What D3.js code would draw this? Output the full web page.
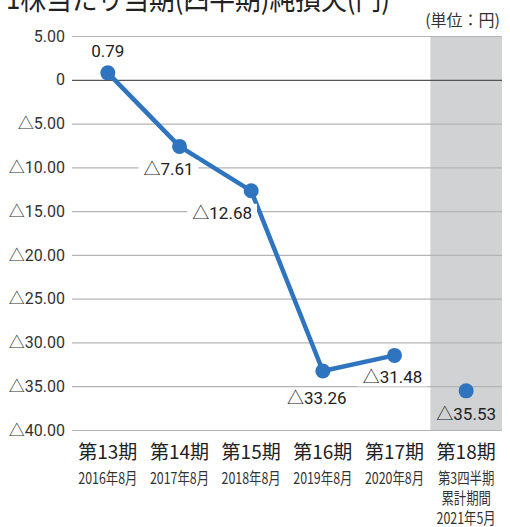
<!DOCTYPE html>
<html><head><meta charset="utf-8">
<script src="https://cdn.jsdelivr.net/npm/d3@7"></script>
<style>
html,body{margin:0;padding:0;background:#fff;}
svg{display:block;font-family:"Noto Sans CJK JP","Noto Sans",sans-serif;}
</style></head>
<body><svg id="chart" width="510" height="527"></svg>
<script>
const categories = ["第13期","第14期","第15期","第16期","第17期","第18期"];
const subLabels = [["2016年8月"],["2017年8月"],["2018年8月"],["2019年8月"],["2020年8月"],["第3四半期","累計期間","2021年5月"]];
const values = [0.79, -7.61, -12.68, -33.26, -31.48, -35.53];
const lineIndices = [0,1,2,3,4];      // connected points (full years)
const highlightIndex = 5;             // shaded (quarterly) period
const yTicks = [5,0,-5,-10,-15,-20,-25,-30,-35,-40];
const titleText = "1株当たり当期(四半期)純損失(円)";
const unitText = "(単位：円)";

(function(){
const pL = 72, pR = 502, pT = 36, pB = 430;
const svg = d3.select("#chart");
const x = d3.scaleBand().domain(categories).range([pL, pR]).padding(0);
const y = d3.scaleLinear().domain([-40, 5]).range([pB, pT]);
const cx = i => x(categories[i]) + x.bandwidth()/2;
const fmt = v => v === 0 ? "0" : (v < 0 ? "△" + Math.abs(v).toFixed(2) : v.toFixed(2));

// shaded band
svg.append("rect")
  .attr("x", x(categories[highlightIndex])).attr("y", y(5))
  .attr("width", x.bandwidth()).attr("height", y(-40) - y(5))
  .attr("fill", "#d1d2d4");

// grid
const yAxis = d3.axisLeft(y).tickValues(yTicks).tickFormat(fmt).tickSize(-(pR-pL)).tickPadding(7);
const gy = svg.append("g").attr("transform", `translate(${pL},0)`).call(yAxis);
gy.select(".domain").remove();
gy.selectAll(".tick line").attr("stroke", d => d === 0 ? "#555" : "#b4b4b4").attr("stroke-width", d => d===0?1.3:1.2);
gy.selectAll(".tick text").attr("fill", "#333").attr("font-size", 16).attr("font-family","Roboto,'Noto Sans CJK JP',sans-serif");

// title & unit
svg.append("text").attr("x", 6).attr("y", 9).attr("font-size", 30).attr("fill","#222")
  .attr("textLength", 384).attr("lengthAdjust","spacingAndGlyphs").text(titleText);
svg.append("text").attr("x", 500).attr("y", 26).attr("text-anchor","end").attr("font-size", 16).attr("fill","#333").text(unitText);

// line
const line = d3.line().x(i => cx(i)).y(i => y(values[i]));
svg.append("path").datum(lineIndices).attr("d", line)
  .attr("fill","none").attr("stroke","#2e74bf").attr("stroke-width",4.5).attr("stroke-linejoin","round");

// points
svg.selectAll("circle.pt").data(values).enter().append("circle")
  .attr("class","pt").attr("cx",(d,i)=>cx(i)).attr("cy",d=>y(d)).attr("r",7.5).attr("fill","#2e74bf");

// value labels
const labelOffsets = [[0,-16],[-11,29],[-29,28],[-6,33],[-2,28],[0,29]];
values.forEach((v,i) => {
  const g = svg.append("g");
  const t = g.append("text").attr("x", cx(i)+labelOffsets[i][0]).attr("y", y(v)+labelOffsets[i][1])
    .attr("text-anchor","middle").attr("font-size",17).attr("fill","#222")
    .attr("font-family","Roboto,'Noto Sans CJK JP',sans-serif").text(fmt(v));
  if (v < 0) {
    const b = t.node().getBBox();
    g.insert("rect","text").attr("x", b.x-5).attr("y", b.y+1).attr("width", b.width+10).attr("height", b.height-2)
      .attr("fill", i === highlightIndex ? "#d1d2d4" : "#fff");
  }
});

// x labels
categories.forEach((c,i) => {
  svg.append("text").attr("x", cx(i)).attr("y", 459).attr("text-anchor","middle")
    .attr("font-size",19).attr("font-weight",400).attr("fill","#222").text(c);
  subLabels[i].forEach((s,j) => {
    svg.append("text").attr("x", cx(i)).attr("y", 484 + j*20).attr("text-anchor","middle")
      .attr("font-size",15.5).attr("fill","#333")
      .attr("transform", `translate(${cx(i)},0) scale(0.8,1) translate(${-cx(i)},0)`).text(s);
  });
});
})();
</script></body></html>
